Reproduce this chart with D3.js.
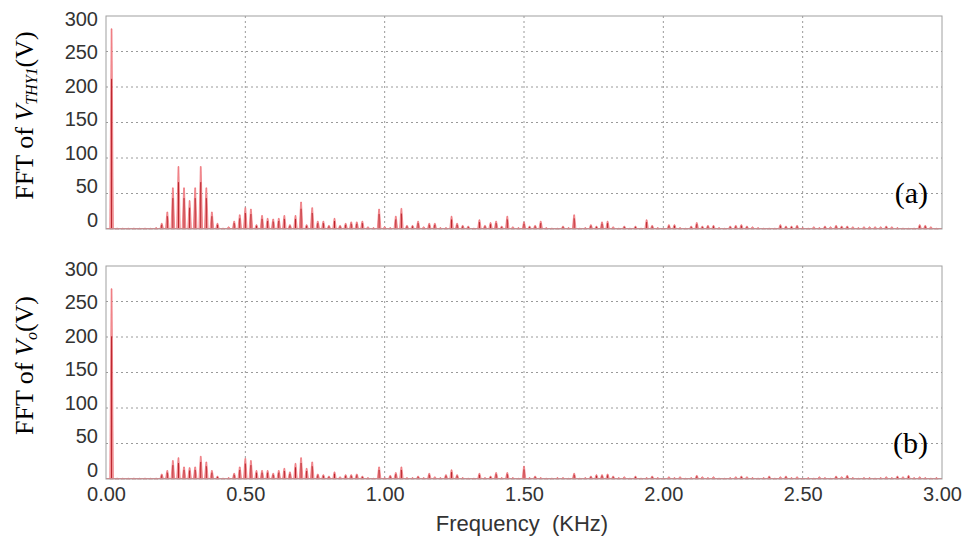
<!DOCTYPE html>
<html>
<head>
<meta charset="utf-8">
<script src="https://cdn.jsdelivr.net/npm/d3@7"></script>
<style>
  body { margin:0; background:#fff; }
  svg { display:block; }
  .tick text { font-family:'Liberation Sans', Arial, sans-serif; fill:#333; }
</style>
</head>
<body>
<svg id="chart" width="968" height="539"></svg>
<script>
// harmonic spacing of the spectrum, kHz
const harmonicStep = 0.02;

// FFT amplitudes (V) of V_THY1, harmonics 1..149
const vthy1 = [
  282,1,1,1,1,1,1,1,2,8,
  24,58,88,58,40,58,88,58,24,8,
  1,3,11,20,30,28,6,19,15,14,
  15,19,6,19,38,6,30,11,11,5,
  15,5,8,10,10,11,3,2,28,3,
  2,18,29,5,5,11,3,8,8,2,
  2,18,8,5,4,1,13,5,9,11,
  4,18,3,2,10,4,5,11,2,1,
  1,4,2,20,1,2,6,4,10,11,
  3,1,4,1,4,1,13,5,2,1,
  6,6,2,1,4,9,4,5,5,2,
  1,4,5,6,4,3,2,1,1,1,
  6,4,4,5,2,1,3,2,4,3,
  5,4,4,3,2,3,3,3,3,4,
  3,2,1,1,1,6,5,3,1
];

// FFT amplitudes (V) of V_o, harmonics 1..149
const vo = [
  268,1,1,1,1,1,1,1,1,7,
  12,26,30,17,16,17,32,24,12,4,
  1,2,8,17,29,26,12,12,12,8,
  12,15,10,22,30,15,24,7,6,4,
  10,3,6,6,7,4,2,1,17,2,
  5,9,17,2,2,4,2,8,3,2,
  6,13,6,2,1,1,8,2,4,9,
  2,9,2,1,18,2,4,2,1,1,
  2,2,1,8,1,2,4,6,6,7,
  4,2,3,1,4,1,2,4,2,1,
  3,2,3,1,2,5,3,2,3,1,
  1,2,3,4,3,2,1,2,4,1,
  3,4,2,3,1,2,1,3,2,1,
  4,3,5,2,1,2,2,1,2,3,
  2,4,3,5,2,3,2,1,2
];

const yTicks = [0, 50, 100, 150, 200, 250, 300];
const xTicks = [0, 0.5, 1.0, 1.5, 2.0, 2.5, 3.0];
const panelTags = ['(a)', '(b)'];

const svg = d3.select('#chart');
const left = 106, right = 942, panelH = 213;
const tops = [16, 266];
const serif = "'Liberation Serif', 'Times New Roman', serif";

const x = d3.scaleLinear().domain([0, 3]).range([left, right]);

const panels = [
  {values: vthy1, top: tops[0], tag: panelTags[0], sub: 'THY1'},
  {values: vo,    top: tops[1], tag: panelTags[1], sub: 'o'}
];

panels.forEach((p, pi) => {
  const y = d3.scaleLinear().domain([0, 300]).range([p.top + panelH, p.top]);
  // tick labels sit on a slightly compressed scale, as in the original
  const yLab = d3.scaleLinear().domain([0, 300]).range([p.top + panelH - 3, p.top + 9]);
  const g = svg.append('g');

  // grid
  g.append('g').selectAll('line')
    .data(yTicks.filter(t => t > 0 && t < 300))
    .enter().append('line')
    .attr('x1', left).attr('x2', right)
    .attr('y1', d => y(d)).attr('y2', d => y(d))
    .attr('stroke', '#9a9a9a').attr('stroke-width', 1)
    .attr('stroke-dasharray', '2,3');
  g.append('g').selectAll('line')
    .data(xTicks.filter(t => t > 0 && t < 3))
    .enter().append('line')
    .attr('x1', d => x(d)).attr('x2', d => x(d))
    .attr('y1', p.top).attr('y2', p.top + panelH)
    .attr('stroke', '#9a9a9a').attr('stroke-width', 1)
    .attr('stroke-dasharray', '2,3');

  // spectrum spikes
  const data = p.values.map((v, i) => ({f: (i + 1) * harmonicStep, v}));
  const hw = 0.0065, tw = 0.0015;
  const spikes = g.append('g');
  spikes.selectAll('path')
    .data(data)
    .enter().append('path')
    .attr('d', d => `M${x(d.f - hw)},${y(0)}L${x(d.f - tw)},${y(d.v)}L${x(d.f + tw)},${y(d.v)}L${x(d.f + hw)},${y(0)}Z`)
    .attr('fill', '#f6a3a6')
    .attr('stroke', '#ea5860')
    .attr('stroke-width', 0.6);
  spikes.selectAll('line')
    .data(data.filter(d => d.v > 3))
    .enter().append('line')
    .attr('x1', d => x(d.f)).attr('x2', d => x(d.f))
    .attr('y1', y(0)).attr('y2', d => y(d.v * 0.75))
    .attr('stroke', '#b0141c').attr('stroke-width', 0.9);
  g.append('line')
    .attr('x1', left).attr('x2', right)
    .attr('y1', y(0) - 0.5).attr('y2', y(0) - 0.5)
    .attr('stroke', '#ee7a80').attr('stroke-width', 1);

  // frame
  g.append('rect')
    .attr('x', left).attr('y', p.top)
    .attr('width', right - left).attr('height', panelH)
    .attr('fill', 'none').attr('stroke', '#a0a0a0').attr('stroke-width', 1);

  // y axis
  const ya = g.append('g')
    .attr('transform', `translate(${left},0)`)
    .call(d3.axisLeft(y).tickValues(yTicks).tickSize(0).tickPadding(8));
  ya.select('.domain').remove();
  ya.selectAll('text')
    .attr('font-size', 20)
    .attr('dy', 0)
    .attr('y', d => yLab(d) - y(d));

  // y label
  const lab = g.append('text')
    .attr('transform', `translate(33,${p.top + panelH / 2 - 7}) rotate(-90)`)
    .attr('text-anchor', 'middle')
    .attr('font-family', serif)
    .attr('font-size', 26)
    .attr('fill', '#000');
  lab.append('tspan').text('FFT of ');
  lab.append('tspan').attr('font-style', 'italic').text('V');
  lab.append('tspan').attr('font-style', 'italic').attr('font-size', 16)
    .attr('baseline-shift', '-25%').text(p.sub);
  lab.append('tspan').text('(V)');

  // panel tag
  g.append('text')
    .attr('x', 928).attr('y', p.top + panelH - 26)
    .attr('text-anchor', 'end')
    .attr('font-family', serif)
    .attr('font-size', 30).attr('fill', '#000')
    .text(p.tag);

  if (pi === 1) {
    const xa = g.append('g')
      .attr('transform', `translate(0,${p.top + panelH})`)
      .call(d3.axisBottom(x).tickValues(xTicks).tickSize(0).tickPadding(8)
        .tickFormat(d3.format('.2f')));
    xa.select('.domain').remove();
    xa.selectAll('text').attr('font-size', 20);
  }
});

svg.append('text')
  .attr('x', 522).attr('y', 531)
  .attr('text-anchor', 'middle')
  .attr('font-family', "'Liberation Sans', Arial, sans-serif")
  .attr('font-size', 22).attr('fill', '#333')
  .attr('xml:space', 'preserve')
  .style('white-space', 'pre')
  .text('Frequency  (KHz)');
</script>
</body>
</html>
